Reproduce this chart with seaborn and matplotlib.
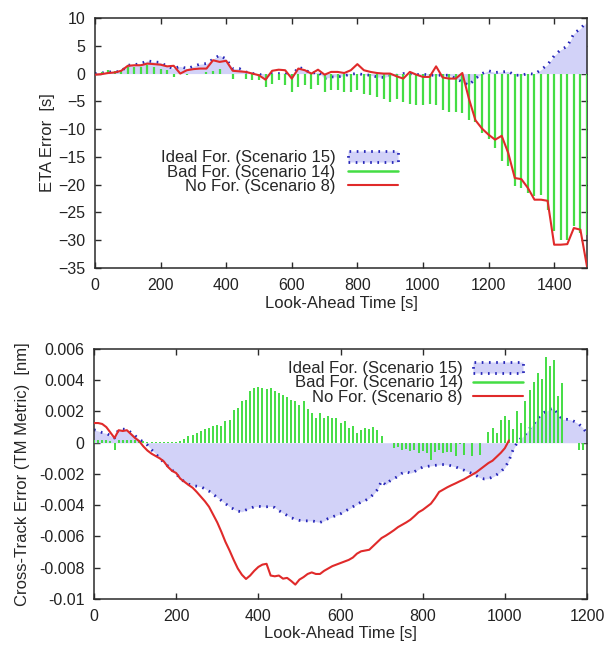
import numpy as np
import pandas as pd
import matplotlib
matplotlib.use("Agg")
import matplotlib.pyplot as plt
from matplotlib.patches import Patch
from matplotlib.lines import Line2D
import seaborn as sns

# ---- top panel: ETA error, sampled every 20 s ----
eta_time = list(range(0, 1501, 20))

eta_ideal = [0.0, 0.1, 0.3, 0.3, 0.4, 1.5, 1.6, 1.8, 2.3, 2.1,
             2.0, 1.3, 0.9, 1.3, 0.9, 1.3, 1.7, 1.8, 2.6, 3.3,
             2.6, 0.9, 0.9, 0.3, 0.0, 0.0, -0.9, 0.0, 0.0, 0.1,
             -0.6, 1.2, 0.7, 0.0, 0.3, -0.9, -0.6, -0.6, -0.4, -0.1,
             0.0, -0.2, -0.3, -0.6, -0.7, -0.4, -0.3, 0.0, 0.0, -0.2,
             -0.1, -0.3, -0.3, -0.3, -0.3, -0.9, -1.5, -2.1, -0.9, 0.0,
             0.5, 0.2, 0.3, 0.4, -0.3, -0.3, 0.0, -0.1, 0.7, 1.6,
             3.2, 4.3, 4.9, 7.2, 8.1, 9.3]

eta_bad = [0.0, 0.2, 0.6, 0.5, 0.6, 1.2, 1.2, 1.2, 1.5, 1.2,
           0.9, 0.7, -0.6, 0.1, -0.2, 0.0, 0.0, 0.2, 0.5, 0.9,
           0.0, -0.9, 0.0, -0.9, -1.2, -1.2, -2.4, -1.8, -1.2, -2.1,
           -3.3, -2.4, -2.1, -2.7, -2.1, -3.3, -3.0, -3.0, -3.3, -3.3,
           -3.0, -3.6, -3.9, -4.2, -4.5, -5.1, -4.5, -5.1, -5.4, -5.7,
           -5.6, -5.5, -5.7, -6.6, -6.9, -7.0, -7.1, -8.4, -8.7, -10.7,
           -11.8, -13.4, -15.8, -16.6, -20.2, -20.6, -21.5, -22.1, -21.8, -24.5,
           -28.4, -29.9, -29.9, -27.5, -28.7, -29.0]

eta_none = [-0.2, -0.1, 0.1, 0.2, 0.5, 1.4, 1.5, 1.5, 1.8, 1.7,
            1.6, 1.3, 1.4, 0.0, 0.6, 0.8, 0.9, 0.9, 2.4, 2.1,
            2.3, 0.5, 0.4, 0.3, 0.0, -0.3, -1.1, 0.5, 0.7, 0.6,
            -0.9, 0.9, 0.6, 0.0, 0.7, -0.2, 0.3, 0.3, 0.1, 0.6,
            1.7, 0.6, 0.3, 0.1, 0.0, 0.0, -0.5, -0.9, 0.3, -0.2,
            -0.6, -0.6, 1.3, -0.7, -0.9, -0.9, 0.1, -4.5, -8.4, -9.9,
            -11.0, -11.9, -11.2, -14.3, -18.8, -19.0, -20.6, -22.7, -22.7, -22.9,
            -30.8, -30.8, -30.7, -27.8, -28.1, -34.7]

# ---- bottom panel: cross-track error (x 0.001 nm), sampled every 10 s ----
xte_time = list(range(0, 1201, 10))

xte_ideal = [0.83, 0.75, 0.65, 0.6, 0.45, 0.3, 0.85, 0.87, 0.85, 0.65,
             0.45, 0.22, 0.05, -0.15, -0.45, -0.7, -1.0, -1.25, -1.5, -1.75,
             -2.0, -2.28, -2.5, -2.65, -2.75, -2.78, -2.82, -2.95, -3.1, -3.3,
             -3.5, -3.7, -3.9, -4.1, -4.25, -4.38, -4.42, -4.3, -4.2, -4.1,
             -4.07, -4.1, -4.1, -4.07, -4.15, -4.35, -4.5, -4.65, -4.8, -4.9,
             -4.97, -5.0, -5.0, -5.0, -5.05, -5.1, -5.0, -4.85, -4.75, -4.65,
             -4.55, -4.4, -4.25, -4.1, -3.95, -3.8, -3.7, -3.55, -3.3, -3.0,
             -2.45, -2.7, -2.45, -2.3, -2.15, -1.95, -1.85, -1.95, -1.85, -1.7,
             -1.56, -1.52, -1.48, -1.45, -1.42, -1.4, -1.42, -1.48, -1.55, -1.65,
             -1.75, -1.85, -1.97, -2.1, -2.25, -2.32, -2.3, -2.2, -2.05, -1.85,
             -1.6, -1.15, -0.45, 0.0, 0.3, 0.55, 0.9, 1.2, 1.55, 1.85,
             2.0, 2.15, 2.2, 1.8, 1.5, 1.5, 1.47, 1.35, 1.2, 0.95,
             0.6]

xte_bad = [0.2, 0.2, 0.15, 0.2, 0.1, -0.45, 0.15, 0.2, 0.2, 0.15,
           0.2, 0.15, 0.1, 0.05, 0.03, 0.03, 0.02, 0.02, 0.02, 0.02,
           0.03, 0.1, 0.24, 0.41, 0.51, 0.62, 0.72, 0.88, 0.94, 1.05,
           1.15, 1.05, 1.37, 1.47, 2.1, 2.22, 2.65, 2.76, 3.29, 3.5,
           3.57, 3.5, 3.44, 3.5, 3.29, 3.18, 3.08, 2.93, 2.76, 2.65,
           2.44, 2.65, 2.16, 1.9, 1.58, 1.9, 1.58, 1.69, 1.58, 1.58,
           1.26, 1.37, 0.94, 1.05, 0.6, 0.83, 0.94, 0.88, 1.0, 0.8,
           0.41, 0.0, 0.0, -0.34, -0.28, -0.45, -0.4, -0.56, -0.45, -0.66,
           -0.56, -0.66, -1.1, -0.62, -0.49, -0.66, -0.62, -0.6, -0.88, -0.06,
           -0.77, 0.0, -0.85, 0.0, -0.8, 0.0, 0.7, 0.94, 0.62, 1.47,
           1.69, 1.47, 0.9, 2.0, 1.26, 2.65, 3.4, 3.9, 4.45, 4.1,
           5.5, 4.9, 5.3, 3.0, 3.8, 0.0, 0.0, 0.0, -0.45, -0.45,
           0.0]

xte_none_time = list(range(0, 1011, 10))
xte_none = [1.26, 1.26, 1.2, 1.0, 0.65, 0.3, 0.8, 0.75, 0.8, 0.55,
            0.3, 0.1, -0.23, -0.5, -0.7, -0.85, -1.0, -1.2, -1.55, -1.8,
            -1.94, -2.3, -2.5, -2.7, -2.88, -3.15, -3.45, -3.75, -4.1, -4.6,
            -5.1, -5.7, -6.35, -6.9, -7.5, -8.05, -8.45, -8.72, -8.5, -8.2,
            -7.95, -7.8, -7.75, -8.5, -8.55, -8.5, -8.7, -8.65, -8.85, -9.08,
            -8.76, -8.6, -8.4, -8.3, -8.4, -8.4, -8.2, -8.05, -7.9, -7.8,
            -7.7, -7.6, -7.5, -7.35, -7.1, -6.95, -6.9, -6.85, -6.6, -6.35,
            -6.1, -5.95, -5.78, -5.6, -5.4, -5.25, -5.1, -4.93, -4.7, -4.45,
            -4.3, -4.1, -3.9, -3.55, -3.15, -3.0, -2.85, -2.72, -2.6, -2.47,
            -2.35, -2.2, -2.05, -1.9, -1.7, -1.5, -1.3, -1.15, -0.9, -0.65,
            -0.35, 0.15]

legend_labels = ["Ideal For. (Scenario 15)", "Bad For. (Scenario 14)", "No For. (Scenario 8)"]

eta_yticks = [10, 5, 0, -5, -10, -15, -20, -25, -30, -35]
eta_xticks = [0, 200, 400, 600, 800, 1000, 1200, 1400]
xte_yticks = [0.006, 0.004, 0.002, 0, -0.002, -0.004, -0.006, -0.008, -0.01]
xte_yticklabels = ["0.006", "0.004", "0.002", "0", "-0.002", "-0.004", "-0.006", "-0.008", "-0.01"]
xte_xticks = [0, 200, 400, 600, 800, 1000, 1200]

FILL = "#d2d2f8"
BLUE = "#2626b8"
GREEN = "#44dd44"
RED = "#e02a2a"
FRAME = "#2a2a2a"

sns.set_theme(style="ticks")
plt.rcParams["font.family"] = ["Liberation Sans", "DejaVu Sans"]
plt.rcParams["axes.edgecolor"] = FRAME
plt.rcParams["axes.linewidth"] = 1.1


def style_axes(ax):
    ax.tick_params(direction="in", top=True, right=True, length=4.5, width=1.0,
                   colors=FRAME, labelcolor="#222222", labelsize=11.5, pad=7)
    for s in ax.spines.values():
        s.set_visible(True)
        s.set_color(FRAME)


def draw_panel(ax, t, ideal, bad, t_none, none, bar_lw):
    t = np.asarray(t, dtype=float)
    ideal = np.asarray(ideal, dtype=float)
    ax.fill_between(t, 0, ideal, color=FILL, lw=0, zorder=1)
    sns.lineplot(x=t, y=ideal, ax=ax, color=BLUE, lw=2.0,
                 linestyle=(0, (0.6, 2.0)), zorder=2)
    ax.vlines(t, 0, bad, color=GREEN, lw=bar_lw, zorder=3)
    sns.lineplot(x=t_none, y=none, ax=ax, color=RED, lw=1.5, zorder=4)


def legend_handles():
    return [Patch(facecolor=FILL, edgecolor=BLUE, linestyle=(0, (0.6, 2.0)), lw=2.0),
            Line2D([], [], color=GREEN, lw=1.8),
            Line2D([], [], color=RED, lw=1.5)]


fig = plt.figure(figsize=(6.08, 6.46), dpi=100)

# top panel
ax1 = fig.add_axes([0.1562, 0.5851, 0.8092, 0.3870])
draw_panel(ax1, eta_time, eta_ideal, eta_bad, eta_time, eta_none, bar_lw=1.6)
ax1.set_xlim(0, 1500)
ax1.set_ylim(-35, 10)
ax1.set_xticks(eta_xticks)
ax1.set_yticks(eta_yticks)
ax1.set_xlabel("Look-Ahead Time [s]", fontsize=12, labelpad=2)
ax1.set_ylabel("ETA Error  [s]", fontsize=12, labelpad=2)
style_axes(ax1)
ax1.legend(legend_handles(), legend_labels, markerfirst=False, frameon=False,
           loc="center right", bbox_to_anchor=(0.616, 0.384), borderpad=0,
           borderaxespad=0, handlelength=3.0, handletextpad=0.75,
           labelspacing=-0.05, fontsize=12)

# bottom panel
ax2 = fig.add_axes([0.1546, 0.0728, 0.8109, 0.3870])
xte_scale = 0.001
draw_panel(ax2, xte_time, np.array(xte_ideal) * xte_scale, np.array(xte_bad) * xte_scale,
           xte_none_time, np.array(xte_none) * xte_scale, bar_lw=1.4)
ax2.set_xlim(0, 1200)
ax2.set_ylim(-0.01, 0.006)
ax2.set_xticks(xte_xticks)
ax2.set_yticks(xte_yticks)
ax2.set_yticklabels(xte_yticklabels)
ax2.set_xlabel("Look-Ahead Time [s]", fontsize=12, labelpad=2)
ax2.set_ylabel("Cross-Track Error (TM Metric)  [nm]", fontsize=12, labelpad=6)
style_axes(ax2)
ax2.legend(legend_handles(), legend_labels, markerfirst=False, frameon=False,
           loc="center right", bbox_to_anchor=(0.870, 0.864), borderpad=0,
           borderaxespad=0, handlelength=3.0, handletextpad=0.6,
           labelspacing=-0.05, fontsize=12)

fig.savefig("out.png", dpi=100)
